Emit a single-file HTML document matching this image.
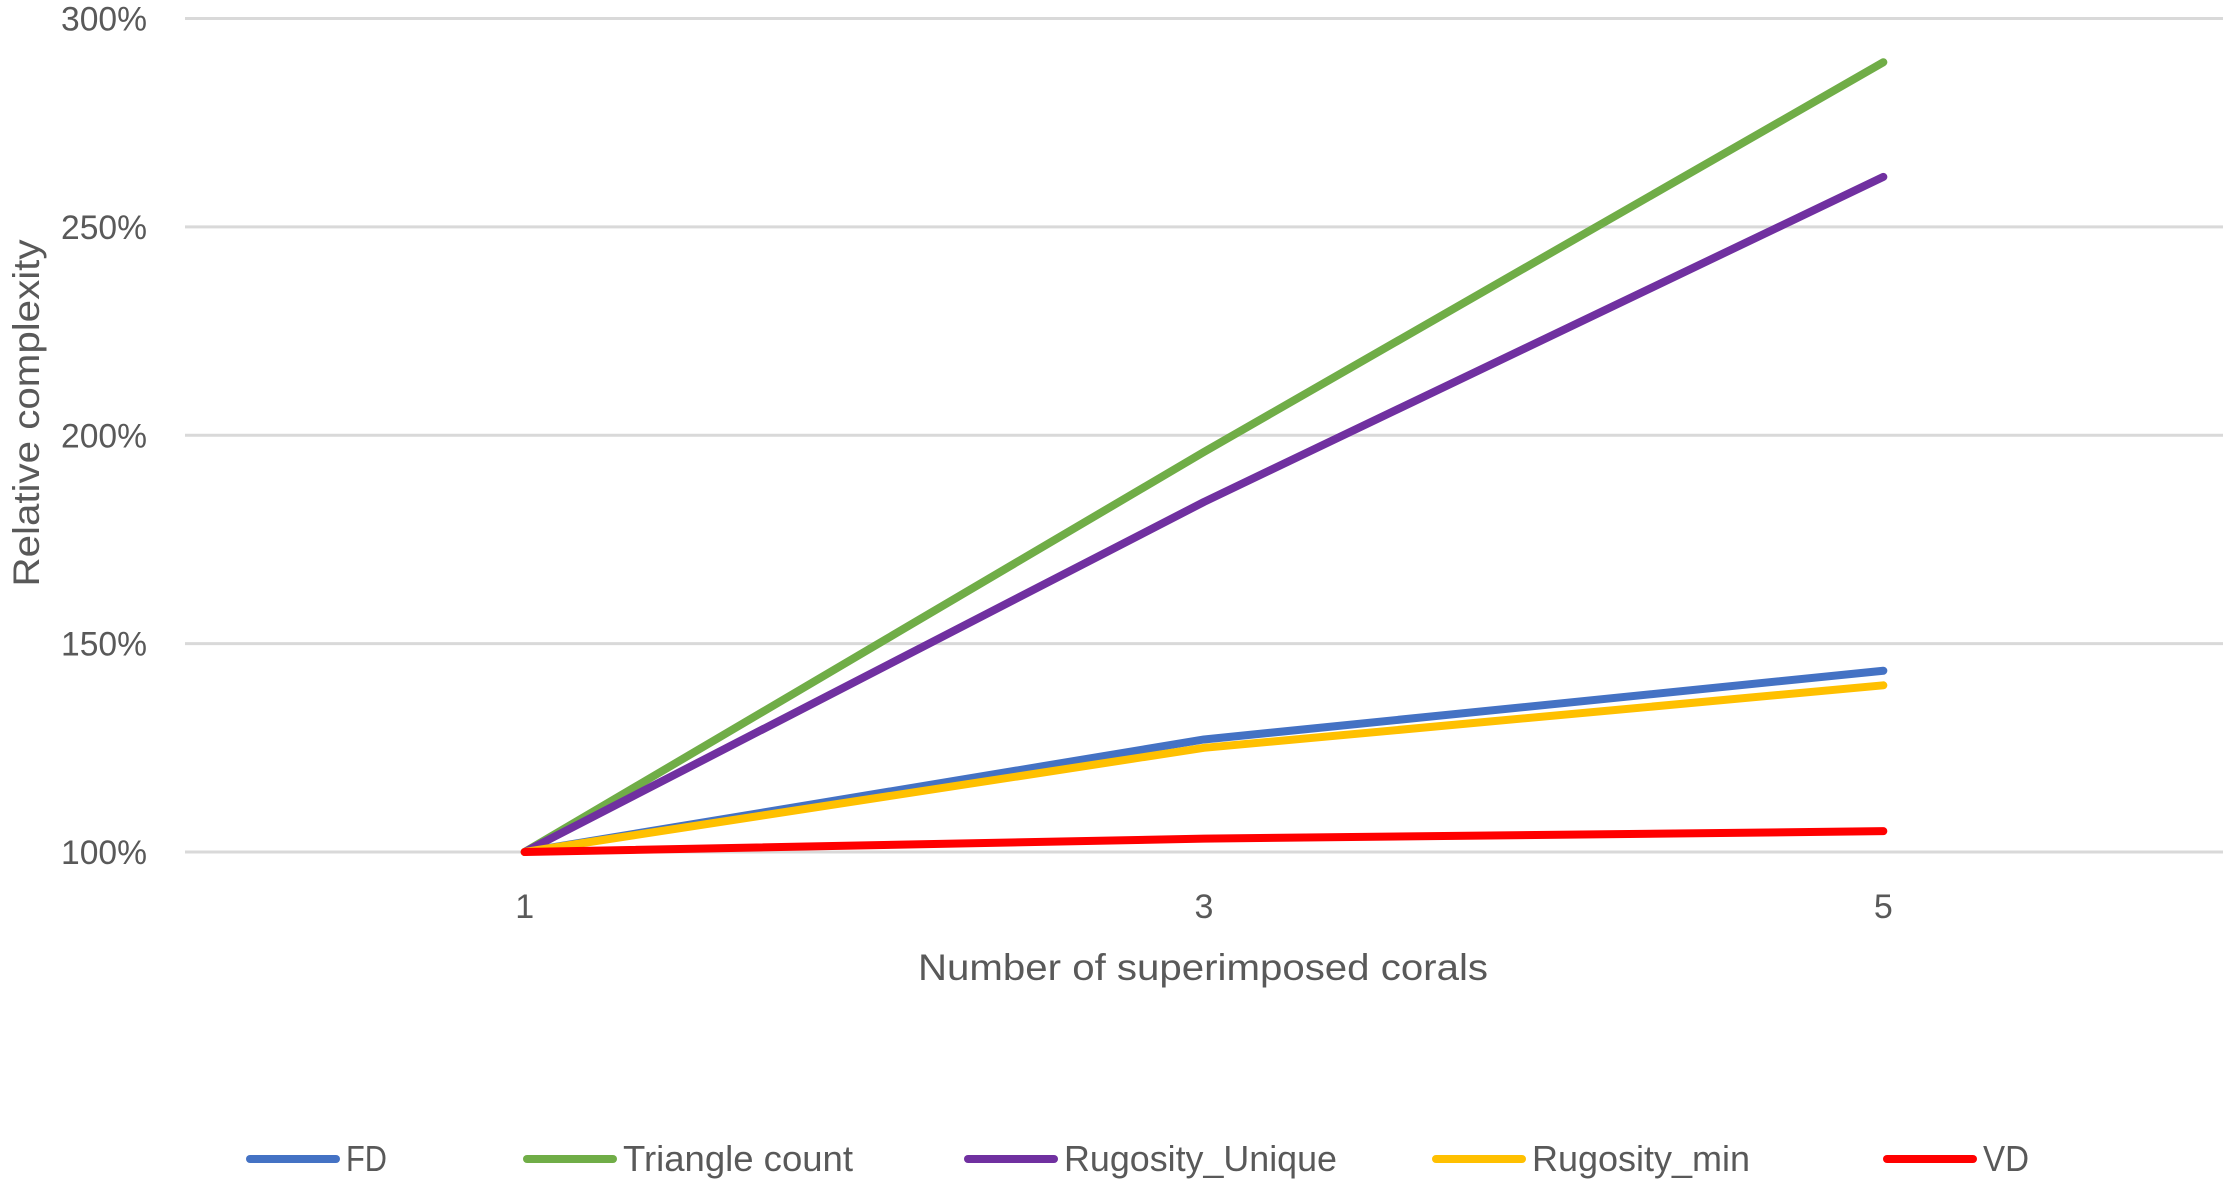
<!DOCTYPE html>
<html><head><meta charset="utf-8"><style>
html,body{margin:0;padding:0;background:#fff;}
svg{display:block;font-family:"Liberation Sans",sans-serif;}
</style></head><body>
<svg id="chart" width="2230" height="1183" viewBox="0 0 2230 1183" xmlns="http://www.w3.org/2000/svg">
<rect width="2230" height="1183" fill="#fff"/>
<g id="grid"></g><g id="yticks"></g><g id="xticks"></g><g id="series"></g><g id="legend"></g>
<text x="1203" y="980" font-size="37" fill="#595959" text-anchor="middle" textLength="570" lengthAdjust="spacingAndGlyphs">Number of superimposed corals</text>
<text transform="translate(39,413) rotate(-90)" font-size="37" fill="#595959" text-anchor="middle" textLength="347" lengthAdjust="spacingAndGlyphs">Relative complexity</text>
</svg>
<script>
const categories = ["1","3","5"];
const yTicks = [100,150,200,250,300];
const yTickLabels = ["100%","150%","200%","250%","300%"];
const seriesNames = ["FD","Triangle count","Rugosity_Unique","Rugosity_min","VD"];
const seriesColors = ["#4472C4","#70AD47","#7030A0","#FFC000","#FF0000"];
const fdValues = [100,127,143.5];
const triangleValues = [100,196,289.5];
const rugUniqueValues = [100,184,262];
const rugMinValues = [100,125,140];
const vdValues = [100,103.2,105];
const allSeries = [fdValues,triangleValues,rugUniqueValues,rugMinValues,vdValues];
const drawOrder = [0,1,2,3,4];

const NS="http://www.w3.org/2000/svg";
const plotL=185, plotR=2223, plotT=18.5, plotB=852;
const yMin=100, yMax=300;
function yScale(v){return plotB-(v-yMin)/(yMax-yMin)*(plotB-plotT);}
function xScale(i){const w=(plotR-plotL)/categories.length;return plotL+w*(i+0.5);}
function mk(tag,attrs,parent){const e=document.createElementNS(NS,tag);for(const k in attrs)e.setAttribute(k,attrs[k]);parent.appendChild(e);return e;}

const grid=document.getElementById('grid'), yt=document.getElementById('yticks'), xt=document.getElementById('xticks');
yTicks.forEach((v,i)=>{
  const l=mk('line',{x1:plotL,x2:plotR,y1:yScale(v),y2:yScale(v),stroke:'#d9d9d9','stroke-width':3},grid);
  
  
  const t=mk('text',{x:147,y:yScale(v)+12,'font-size':34,fill:'#595959','text-anchor':'end',textLength:86,lengthAdjust:'spacingAndGlyphs'},yt);
  t.textContent=yTickLabels[i];
  
  
});
categories.forEach((c,i)=>{
  const t=mk('text',{x:xScale(i),y:918,'font-size':34,fill:'#595959','text-anchor':'middle'},xt);
  t.textContent=c;
  
  
});
const sg=document.getElementById('series');
drawOrder.forEach(si=>{
  const pts=allSeries[si].map((v,i)=>xScale(i)+','+yScale(v)).join(' ');
  const p=mk('polyline',{points:pts,fill:'none',stroke:seriesColors[si],'stroke-width':8,'stroke-linecap':'round','stroke-linejoin':'round'},sg);
  
  
});
const legendLineX=[250,527,968,1436,1887];
const legendTextW=[41,230,273,218,46];
const lg=document.getElementById('legend');
seriesNames.forEach((n,i)=>{
  const g=mk('g',{},lg);
  
  
  mk('line',{x1:legendLineX[i],x2:legendLineX[i]+86,y1:1159,y2:1159,stroke:seriesColors[i],'stroke-width':8,'stroke-linecap':'round'},g);
  const t=mk('text',{x:legendLineX[i]+96,y:1171,'font-size':36,fill:'#595959',textLength:legendTextW[i],lengthAdjust:'spacingAndGlyphs'},g);
  t.textContent=n;
});
</script>
</body></html>
